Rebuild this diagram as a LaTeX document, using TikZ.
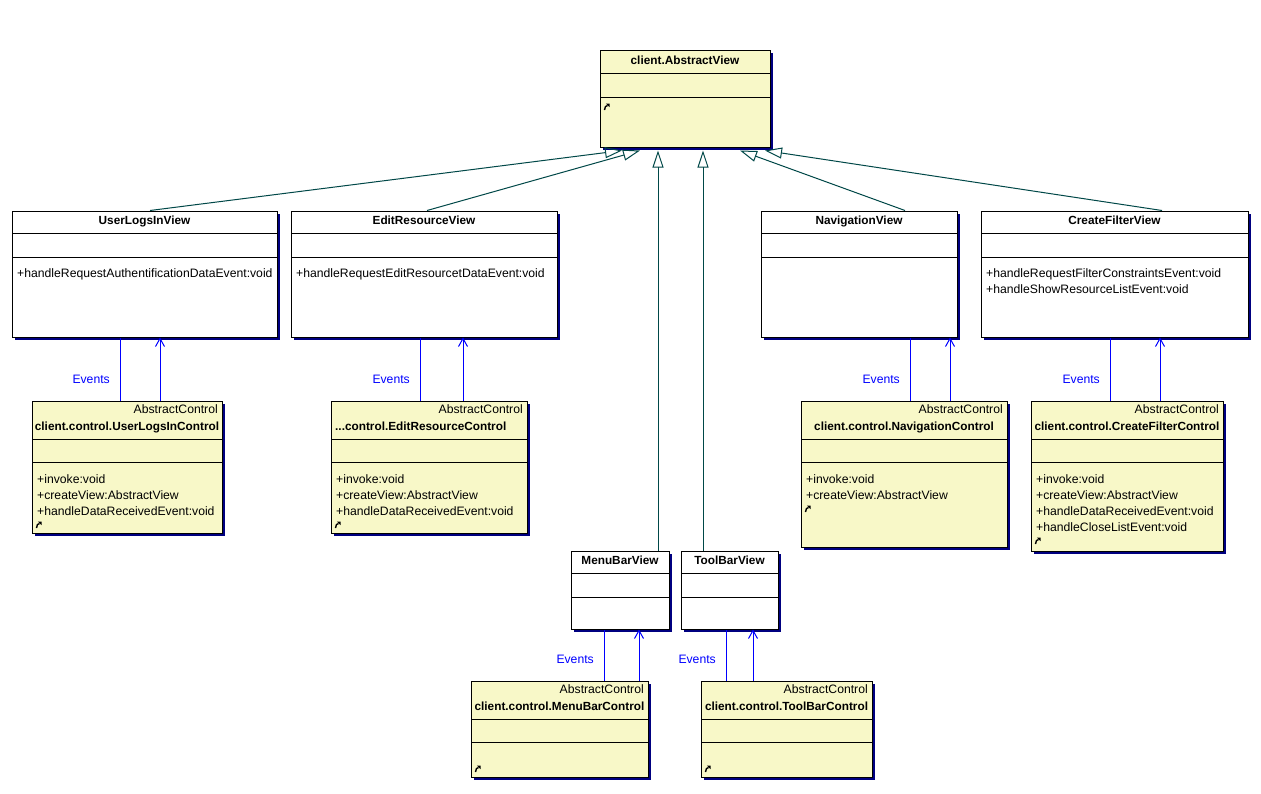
\documentclass[tikz,border=0pt]{standalone}
\usepackage{fontspec}
\setmainfont{Liberation Sans}
\usetikzlibrary{arrows.meta,shadows,calc}
\definecolor{cream}{RGB}{248,248,200}
\definecolor{navyshadow}{RGB}{0,0,128}
\definecolor{inhcol}{RGB}{0,72,72}
\definecolor{evcol}{RGB}{0,0,255}
\newcommand\umlbox[6]{\node[#6, minimum width={(#4)-(#2)}, minimum height={(#5)-(#3)}] (#1) at ({((#2)+(#4))/2},{((#3)+(#5))/2}) {};}
\newcommand\hdiv[3]{\draw[divider] (#1,#3) -- (#2,#3);}
\newcommand\umlicon[2]{\begin{scope}[shift={(#1,#2)}]\draw[line width=1.4pt] (-1.5,3) .. controls (-1.5,0) and (0,-1.5) .. (1.5,-1.5);\fill (3.5,-3.5) -- (-0.2,-3.5) -- (3.5,0.2) -- cycle;\end{scope}}
\newcommand\evconn[5]{%
  \draw[ev] (#2.north -| #3,0) -- (#1.south -| #3,0);
  \draw[evarrow] (#2.north -| #4,0) -- (#1.south -| #4,0);
  \node[evlabel] at (#3-10,#5) {Events};}
\begin{document}
\begin{tikzpicture}[x=1pt,y=-1pt, font=\fontsize{12.2}{14}\selectfont,
 cls/.style={draw=black, line width=1pt, inner sep=0pt, drop shadow={shadow xshift=3pt,shadow yshift=-3pt,fill=navyshadow,opacity=1}},
 view/.style={cls, fill=white},
 ctrl/.style={cls, fill=cream},
 divider/.style={line width=1pt},
 title/.style={anchor=base, font=\fontsize{11.8}{14}\selectfont\bfseries, inner sep=0pt},
 titlel/.style={anchor=base west, font=\fontsize{11.8}{14}\selectfont\bfseries, inner sep=0pt},
 meth/.style={anchor=base west, inner sep=0pt},
 stereo/.style={anchor=base east, inner sep=0pt},
 inh/.style={draw=inhcol, line width=1pt, -{Triangle[open, length=17pt, width=11pt]}},
 ev/.style={draw=evcol, line width=1pt},
 evarrow/.style={ev, -{Straight Barb[length=8pt,width=9pt]}},
 evlabel/.style={text=evcol, anchor=base east, inner sep=0pt},
]
\useasboundingbox[fill=white] (0,0) rectangle (1261,793);

% ---------- AbstractView
\umlbox{AV}{600}{50}{770}{147}{ctrl}
\hdiv{600}{770}{73}\hdiv{600}{770}{97}
\node[title] (AVt) at (685,64) {client.AbstractView};
\umlicon{606}{107}

% ---------- Views
\umlbox{UL}{12}{211}{277}{337}{view}
\hdiv{12}{277}{233}\hdiv{12}{277}{257}
\node[title] (ULt) at (144.5,224) {UserLogsInView};
\node[meth] (ULm1) at (17,277) {+handleRequestAuthentificationDataEvent:void};

\umlbox{ER}{291}{211}{557}{337}{view}
\hdiv{291}{557}{233}\hdiv{291}{557}{257}
\node[title] (ERt) at (424,224) {EditResourceView};
\node[meth] (ERm1) at (296,277) {+handleRequestEditResourcetDataEvent:void};

\umlbox{NV}{761}{211}{957}{337}{view}
\hdiv{761}{957}{233}\hdiv{761}{957}{257}
\node[title] (NVt) at (859,224) {NavigationView};

\umlbox{CF}{981}{211}{1248}{337}{view}
\hdiv{981}{1248}{233}\hdiv{981}{1248}{257}
\node[title] (CFt) at (1114.5,224) {CreateFilterView};
\node[meth] (CFm1) at (986,277) {+handleRequestFilterConstraintsEvent:void};
\node[meth] (CFm2) at (986,293) {+handleShowResourceListEvent:void};

\umlbox{MB}{571}{551}{669}{629}{view}
\hdiv{571}{669}{573}\hdiv{571}{669}{597}
\node[title] (MBt) at (620,564) {MenuBarView};

\umlbox{TB}{681}{551}{778}{629}{view}
\hdiv{681}{778}{573}\hdiv{681}{778}{597}
\node[title] (TBt) at (729.5,564) {ToolBarView};

% ---------- Controls
\umlbox{ULc}{32}{401}{222}{533}{ctrl}
\hdiv{32}{222}{439}\hdiv{32}{222}{462}
\node[stereo] (ULcs) at (218,413) {AbstractControl};
\node[title] (ULct) at (127,430) {client.control.UserLogsInControl};
\node[meth] (ULcm1) at (37,483) {+invoke:void};
\node[meth] (ULcm2) at (37,499) {+createView:AbstractView};
\node[meth] (ULcm3) at (37,515) {+handleDataReceivedEvent:void};
\umlicon{38}{525}

\umlbox{ERc}{331}{401}{527}{533}{ctrl}
\hdiv{331}{527}{439}\hdiv{331}{527}{462}
\node[stereo] (ERcs) at (523,413) {AbstractControl};
\node[titlel] (ERct) at (335,430) {...control.EditResourceControl};
\node[meth] (ERcm1) at (336,483) {+invoke:void};
\node[meth] (ERcm2) at (336,499) {+createView:AbstractView};
\node[meth] (ERcm3) at (336,515) {+handleDataReceivedEvent:void};
\umlicon{337}{525}

\umlbox{NVc}{801}{401}{1007}{547}{ctrl}
\hdiv{801}{1007}{439}\hdiv{801}{1007}{462}
\node[stereo] (NVcs) at (1003,413) {AbstractControl};
\node[title] (NVct) at (904,430) {client.control.NavigationControl};
\node[meth] (NVcm1) at (806,483) {+invoke:void};
\node[meth] (NVcm2) at (806,499) {+createView:AbstractView};
\umlicon{807}{509}

\umlbox{CFc}{1031}{401}{1223}{551}{ctrl}
\hdiv{1031}{1223}{439}\hdiv{1031}{1223}{462}
\node[stereo] (CFcs) at (1219,413) {AbstractControl};
\node[title] (CFct) at (1127,430) {client.control.CreateFilterControl};
\node[meth] (CFcm1) at (1036,483) {+invoke:void};
\node[meth] (CFcm2) at (1036,499) {+createView:AbstractView};
\node[meth] (CFcm3) at (1036,515) {+handleDataReceivedEvent:void};
\node[meth] (CFcm4) at (1036,531) {+handleCloseListEvent:void};
\umlicon{1037}{541}

\umlbox{MBc}{471}{681}{648}{777}{ctrl}
\hdiv{471}{648}{719}\hdiv{471}{648}{742}
\node[stereo] (MBcs) at (644,693) {AbstractControl};
\node[title] (MBct) at (559.5,710) {client.control.MenuBarControl};
\umlicon{477}{769}

\umlbox{TBc}{701}{681}{872}{777}{ctrl}
\hdiv{701}{872}{719}\hdiv{701}{872}{742}
\node[stereo] (TBcs) at (868,693) {AbstractControl};
\node[title] (TBct) at (786.5,710) {client.control.ToolBarControl};
\umlicon{707}{769}

% ---------- Inheritance
\draw[inh] (UL.north -| 150,0) -- ($(AV.south)+(-63,3)$);
\draw[inh] (ER.north -| 427,0) -- ($(AV.south)+(-45,3)$);
\draw[inh] (MB.north -| 658,0) -- ($(AV.south)+(-27,3)$);
\draw[inh] (TB.north -| 703,0) -- ($(AV.south)+(18,3)$);
\draw[inh] (NV.north -| 905,0) -- ($(AV.south)+(55,3)$);
\draw[inh] (CF.north -| 1162,0) -- ($(AV.south)+(80,3)$);

% ---------- Events
\evconn{UL}{ULc}{120}{160}{383}
\evconn{ER}{ERc}{420}{463}{383}
\evconn{NV}{NVc}{910}{950}{383}
\evconn{CF}{CFc}{1110}{1160}{383}
\evconn{MB}{MBc}{604}{639}{663}
\evconn{TB}{TBc}{726}{753}{663}
\end{tikzpicture}
\end{document}
